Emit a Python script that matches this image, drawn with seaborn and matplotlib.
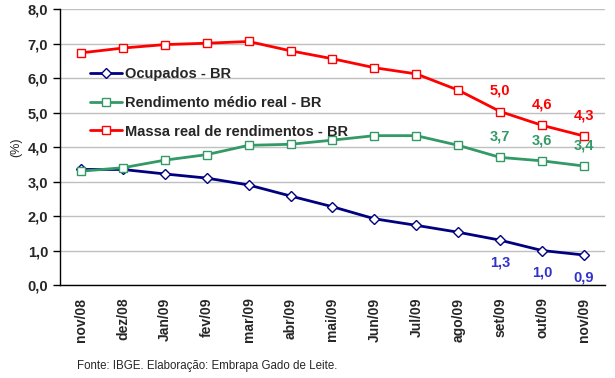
import numpy as np
import pandas as pd
import seaborn as sns
import matplotlib.pyplot as plt

months = ["nov/08", "dez/08", "Jan/09", "fev/09", "mar/09", "abr/09", "mai/09",
          "Jun/09", "Jul/09", "ago/09", "set/09", "out/09", "nov/09"]
ocupados = [3.35, 3.35, 3.22, 3.10, 2.90, 2.58, 2.27, 1.92, 1.73, 1.53, 1.30, 1.00, 0.87]
rendimento = [3.30, 3.40, 3.62, 3.78, 4.05, 4.08, 4.20, 4.33, 4.33, 4.05, 3.70, 3.60, 3.45]
massa = [6.73, 6.87, 6.97, 7.01, 7.06, 6.79, 6.56, 6.30, 6.12, 5.65, 5.03, 4.63, 4.32]
series_names = ["Ocupados - BR", "Rendimento médio real - BR", "Massa real de rendimentos - BR"]
label_ocupados = ["1,3", "1,0", "0,9"]
label_rendimento = ["3,7", "3,6", "3,4"]
label_massa = ["5,0", "4,6", "4,3"]

sns.set_style("white")
plt.rcParams["font.family"] = ["Liberation Sans", "DejaVu Sans"]

line_colors = ["#000080", "#339966", "#FF0000"]
text_colors = ["#3333CC", "#339966", "#FF0000"]
markers = ["D", "s", "s"]
msizes = [5, 6, 6]

fig = plt.figure(figsize=(6.15, 3.78), dpi=100)
ax = fig.add_axes([0.0976, 0.246, 0.886, 0.73])

ax.yaxis.grid(True, color="#C0C0C0", linewidth=1)
ax.set_axisbelow(True)

x = np.arange(len(months))
for name, vals, col, mk, ms in zip(series_names, [ocupados, rendimento, massa],
                                   line_colors, markers, msizes):
    d = pd.DataFrame({"idx": x, "valor": vals})
    sns.lineplot(data=d, x="idx", y="valor", color=col, marker=mk, markersize=ms,
                 markerfacecolor="white", markeredgecolor=col, markeredgewidth=1,
                 linewidth=2, label=name, ax=ax)

ax.set_xlim(-0.5, len(months) - 0.5)
ax.set_ylim(0, 8)
ax.set_yticks(np.arange(0, 8.1, 1))
ax.set_yticklabels([f"{v:.1f}".replace(".", ",") for v in np.arange(0, 8.1, 1)],
                   fontsize=10.5, fontweight="bold")
ax.set_xticks(x)
ax.set_xticklabels(months, rotation=90, fontsize=10, fontweight="bold")
ax.set_xticks(np.arange(-0.5, len(months)), minor=True)
ax.tick_params(axis="x", which="major", length=0, pad=9)
ax.tick_params(axis="x", which="minor", length=5, width=1, color="black", direction="out")
ax.tick_params(axis="y", length=5, width=1, color="black", direction="out", left=True)
ax.set_xlabel("")
ax.set_ylabel("(%)", fontsize=9)

for s in ["top", "right"]:
    ax.spines[s].set_visible(False)
for s in ["left", "bottom"]:
    ax.spines[s].set_color("black")
    ax.spines[s].set_linewidth(1)

for vals, labs, col, dy in [(ocupados, label_ocupados, text_colors[0], -16),
                            (rendimento, label_rendimento, text_colors[1], 15),
                            (massa, label_massa, text_colors[2], 15)]:
    for k, lab in enumerate(labs):
        i = len(months) - 3 + k
        ax.annotate(lab, (i, vals[i]), xytext=(0, dy), textcoords="offset points",
                    ha="center", va="center", fontsize=10.5, fontweight="bold", color=col)

leg = ax.legend(loc="upper left", bbox_to_anchor=(0.045, 0.81), frameon=False,
                prop={"size": 10.5, "weight": "bold"}, handlelength=2.2, labelspacing=1.0,
                handletextpad=0.2, borderaxespad=0)

fig.text(0.125, 0.025, "Fonte: IBGE. Elaboração: Embrapa Gado de Leite.", fontsize=8.3)

fig.savefig("out.png", dpi=100)
